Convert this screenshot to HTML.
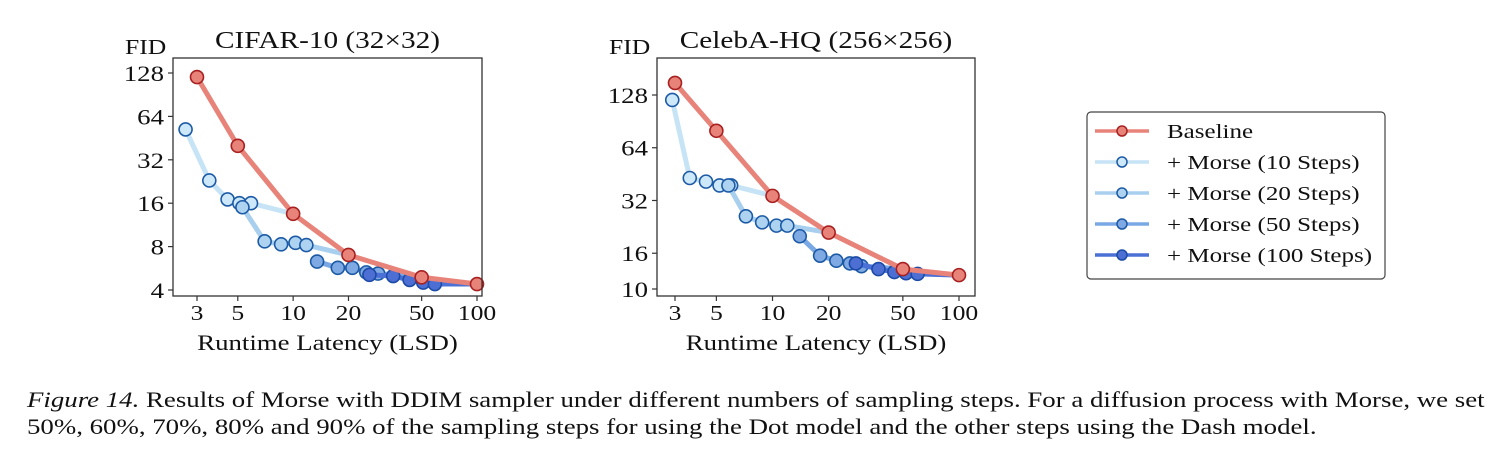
<!DOCTYPE html>
<html><head><meta charset="utf-8"><style>
body{margin:0;background:#fff;width:1510px;height:464px;overflow:hidden;font-family:"Liberation Serif",serif}
svg text{font-family:"Liberation Serif",serif;fill:#111}
.cap{position:absolute;left:27px;font-size:22px;color:#111;white-space:nowrap;line-height:27px;transform:scaleX(1.22);transform-origin:0 0}
</style></head><body>
<svg id="fig" width="1510" height="380" style="position:absolute;left:0;top:0"></svg>
<div class="cap" style="top:386px"><i>Figure 14.</i> Results of Morse with DDIM sampler under different numbers of sampling steps. For a diffusion process with Morse, we set<br>50%, 60%, 70%, 80% and 90% of the sampling steps for using the Dot model and the other steps using the Dash model.</div>
<script>
const seriesNames=["Baseline","+ Morse (10 Steps)","+ Morse (20 Steps)","+ Morse (50 Steps)","+ Morse (100 Steps)"];
const xTicks=[3,5,10,20,50,100];
const cifarYTicks=[4,8,16,32,64,128];
const celebYTicks=[10,16,32,64,128];
const cifarBaseX=[3,5,10,20,50,100], cifarBaseY=[120,40,13.5,7,4.9,4.4];
const cifar10X=[2.6,3.5,4.4,5.1,5.9,10], cifar10Y=[52,23,17,16,16,13.5];
const cifar20X=[5.3,7,8.6,10.3,11.8,20], cifar20Y=[15,8.7,8.3,8.5,8.2,7];
const cifar50X=[13.5,17.5,21,25,29,50], cifar50Y=[6.3,5.7,5.7,5.3,5.2,4.9];
const cifar100X=[26,35,43,51,59,100], cifar100Y=[5.1,5.0,4.7,4.5,4.4,4.4];
const celebBaseX=[3,5,10,20,50,100], celebBaseY=[150,80,34,21,13,12];
const celeb10X=[2.9,3.6,4.4,5.2,6.0,10], celeb10Y=[120,43,41,39,39,34];
const celeb20X=[5.8,7.2,8.8,10.5,12,20], celeb20Y=[39,26,24,23,23,21];
const celeb50X=[14,18,22,26,30,50], celeb50Y=[20,15.5,14.5,14,13.5,13];
const celeb100X=[28,37,45,52,60,100], celeb100Y=[14,13,12.5,12.3,12.2,12];

const lineCol=["#e8837a","#c6e4f6","#a9cfef","#7aa8e4","#4b70d6"];
const fillCol=["#e8837a","#cde8f8","#add3f0","#7ea9e2","#4d6fd4"];
const edgeCol=["#a82020","#1c5aa6","#1c5aa6","#1c5aa6","#1c4aa6"];
const SX=1.22;
const NS="http://www.w3.org/2000/svg";
const svg=document.getElementById('fig');
function mk(tag,attrs,parent){const e=document.createElementNS(NS,tag);for(const k in attrs)e.setAttribute(k,attrs[k]);(parent||svg).appendChild(e);return e;}
function txt(x,y,s,size,anchor,parent){const t=mk('text',{x:0,y:0,'text-anchor':anchor,'font-size':size,transform:'translate('+x+','+y+') scale('+SX+',1)'},parent);t.textContent=s;return t;}

function chart(cfg){
  const g=mk('g',{});
  
  
  const xs=v=>cfg.x3+(Math.log10(v)-Math.log10(3))*(cfg.x100-cfg.x3)/(2-Math.log10(3));
  const ly0=Math.log10(cfg.yA), ly1=Math.log10(cfg.yB);
  const ys=v=>cfg.pyA+(Math.log10(v)-ly0)*(cfg.pyB-cfg.pyA)/(ly1-ly0);
  const series=[[cfg.bx,cfg.by],[cfg.s10x,cfg.s10y],[cfg.s20x,cfg.s20y],[cfg.s50x,cfg.s50y],[cfg.s100x,cfg.s100y]];
  const order=[1,2,3,4,0];
  order.forEach(i=>{
    const [X,Y]=series[i];
    const pl=mk('polyline',{points:X.map((x,j)=>xs(x)+','+ys(Y[j])).join(' '),fill:'none',stroke:lineCol[i],'stroke-width':5,'stroke-linejoin':'round'},g);
    
    
    X.forEach((x,j)=>{
      if(i>0&&j===X.length-1)return;
      const c=mk('circle',{cx:xs(x),cy:ys(Y[j]),r:6.5,fill:fillCol[i],stroke:edgeCol[i],'stroke-width':1.6},g);
      
      
    });
  });
  const fr=mk('rect',{x:cfg.L,y:cfg.T,width:cfg.R-cfg.L,height:cfg.B-cfg.T,fill:'none',stroke:'#333','stroke-width':1.3},g);
  
  
  xTicks.forEach(t=>{
    mk('line',{x1:xs(t),x2:xs(t),y1:cfg.B,y2:cfg.B+5,stroke:'#333','stroke-width':1.2},g);
    const tx=txt(xs(t),cfg.B+24,t,21,'middle',g);
    
    
  });
  cfg.yt.forEach(t=>{
    mk('line',{x1:cfg.L-5,x2:cfg.L,y1:ys(t),y2:ys(t),stroke:'#333','stroke-width':1.2},g);
    const tx=txt(cfg.L-9,ys(t)+8,t,22,'end',g);
    
    
  });
  const ti=txt((cfg.L+cfg.R)/2,cfg.T-10,cfg.title,24,'middle',g);
  
  
  const fy=txt(cfg.fidX,cfg.T-4,'FID',21,'start',g);
  
  
  const xl=txt((cfg.L+cfg.R)/2,cfg.B+54,'Runtime Latency (LSD)',22,'middle',g);
  
  
}
chart({name:'cifar-chart',title:'CIFAR-10 (32×32)',fidX:125,L:173,R:482,T:58,B:296,x3:197,x100:477,yA:4,pyA:290,yB:128,pyB:73,yt:cifarYTicks,
  bx:cifarBaseX,by:cifarBaseY,s10x:cifar10X,s10y:cifar10Y,s20x:cifar20X,s20y:cifar20Y,s50x:cifar50X,s50y:cifar50Y,s100x:cifar100X,s100y:cifar100Y});
chart({name:'celeba-chart',title:'CelebA-HQ (256×256)',fidX:609,L:657,R:975,T:58,B:296,x3:675,x100:959,yA:10,pyA:289,yB:128,pyB:95,yt:celebYTicks,
  bx:celebBaseX,by:celebBaseY,s10x:celeb10X,s10y:celeb10Y,s20x:celeb20X,s20y:celeb20Y,s50x:celeb50X,s50y:celeb50Y,s100x:celeb100X,s100y:celeb100Y});

const lg=mk('g',{});


mk('rect',{x:1087,y:112,width:298,height:167,rx:4,fill:'#fff',stroke:'#444','stroke-width':1.2},lg);
seriesNames.forEach((n,i)=>{
  const y=131+i*31;
  const e=mk('g',{},lg);
  
  
  mk('line',{x1:1095,x2:1149,y1:y,y2:y,stroke:lineCol[i],'stroke-width':3.5},e);
  mk('circle',{cx:1122,cy:y,r:5,fill:fillCol[i],stroke:edgeCol[i],'stroke-width':1.5},e);
  txt(1167,y+7,n,20.5,'start',e);
});
</script>
</body></html>
